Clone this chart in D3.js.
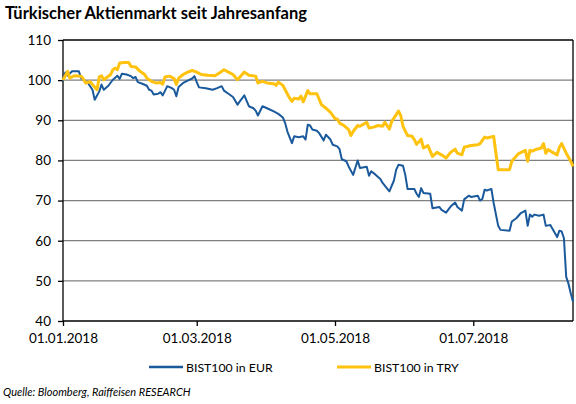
<!DOCTYPE html>
<html><head><meta charset="utf-8">
<script src="https://cdn.jsdelivr.net/npm/d3@7"></script>
<style>body{margin:0;background:#fff;} svg{display:block;}</style>
</head><body>
<svg id="c" width="576" height="404"></svg>
<script>
const startDate = "2018-01-01";
const endDay = 225;
const xTickLabels = ["01.01.2018","01.03.2018","01.05.2018","01.07.2018"];
const yTicks = [40,50,60,70,80,90,100,110];
const seriesNames = ["BIST100 in EUR","BIST100 in TRY"];

const eurDays = [0,1,2,4,7,8,10,11,13,14,16,17,18,20,22,24,25,26,28,30,31,32,33,35,37,38,39,40,42,43,44,46,48,49,50,51,53,55,57,58,59,60,63,66,68,70,71,73,75,77,78,80,82,84,85,86,88,90,93,95,97,98,99,101,102,104,106,107,108,109,110,112,113,115,116,118,119,121,122,123,125,126,128,130,131,134,135,136,138,140,141,144,146,147,148,150,151,152,155,156,157,158,159,162,163,166,167,169,171,173,174,176,177,179,180,183,184,185,186,187,189,190,192,193,197,198,200,202,204,205,206,207,208,210,212,213,215,216,218,219,220,221,222,223,224,225];
const eurValues = [99.7,101.9,101.1,102.2,102.2,100.5,99.7,99.3,97.6,95.1,97.2,98.9,97.6,98.6,100.1,101.1,100.3,101.6,101.4,101.0,100.5,100.8,99.5,99.1,98.6,97.6,97.4,96.4,96.6,97.0,96.2,98.5,98.0,97.6,96.0,98.3,99.3,99.9,100.4,101.0,99.5,98.2,98.0,97.6,98.0,98.5,97.4,96.6,95.8,93.9,94.7,96.2,93.5,93.0,92.4,91.2,93.5,93.0,92.2,91.6,90.7,89.3,87.2,84.3,86.0,85.8,86.0,85.2,88.9,88.7,87.7,87.4,86.8,85.0,86.4,85.2,83.9,83.5,82.8,80.3,79.8,78.5,76.4,80.0,78.1,78.4,76.2,77.3,76.4,75.4,74.4,72.3,75.0,77.7,78.9,78.7,76.4,72.9,72.9,71.7,70.9,73.1,71.9,71.7,68.1,68.4,67.7,67.0,68.5,69.5,68.4,67.5,70.3,71.2,70.9,71.2,70.0,70.4,72.7,72.5,72.9,69.4,63.7,62.7,62.5,64.8,65.6,66.9,67.5,63.7,66.5,66.0,66.5,66.2,66.5,63.7,63.9,62.9,60.9,62.5,62.3,60.6,51.0,49.3,46.9,44.8];

const tryDays = [0,2,3,5,8,9,10,12,13,15,16,17,18,21,22,23,24,25,27,29,30,32,34,36,37,39,41,43,44,45,47,49,50,51,53,55,57,59,61,64,67,69,71,73,75,77,80,82,85,86,88,90,93,94,95,97,98,100,101,102,104,105,106,108,109,112,114,116,118,120,121,122,124,126,127,128,130,131,134,135,137,139,141,142,144,145,147,148,149,150,152,154,155,156,158,159,161,163,165,167,169,171,173,174,176,177,180,183,184,186,187,190,191,192,197,198,201,204,205,206,207,209,211,212,213,214,216,218,219,220,222,224,225];
const tryValues = [100.0,102.2,100.5,101.1,101.0,100.3,99.3,99.6,98.9,97.6,100.8,101.1,100.1,101.4,102.6,103.0,102.6,104.3,104.4,104.4,103.4,103.3,102.2,101.4,100.5,99.7,99.3,99.4,99.0,100.8,101.0,100.4,98.9,100.5,101.4,102.0,102.4,102.0,101.4,101.2,101.1,101.8,102.6,102.0,101.4,100.1,102.0,101.2,101.0,99.3,99.7,99.3,99.1,98.7,99.5,98.7,97.6,95.5,94.7,95.5,95.3,96.0,94.6,97.4,96.6,96.6,93.9,93.0,92.0,90.4,90.3,89.3,88.7,87.7,86.2,87.2,88.7,88.5,89.5,88.1,88.3,88.7,88.5,89.5,87.8,89.7,91.4,92.3,91.2,88.5,86.2,86.0,85.2,84.0,85.3,83.1,83.7,81.0,82.0,81.4,80.6,82.0,82.8,81.8,81.4,83.3,83.7,83.9,84.2,85.8,85.6,86.0,81.8,77.7,77.7,79.8,81.7,82.5,79.8,82.5,82.3,82.8,83.1,84.2,81.8,82.7,82.0,81.4,83.3,84.2,81.8,79.8,78.5];

const blue = "#1a5a9c", yellow = "#fec20f";
const svg = d3.select("#c");
const m = {l:63, t:40, r:573, b:321};
const t0 = d3.timeParse("%Y-%m-%d")(startDate);
const toDate = d => d3.timeDay.offset(t0, d);
const x = d3.scaleTime().domain([t0, toDate(endDay)]).range([m.l, m.r]);
const y = d3.scaleLinear().domain([40,110]).range([m.b, m.t]);
const font = "'Century Gothic','URW Gothic','Lato',sans-serif";

svg.append("text").attr("x",5).attr("y",19).attr("font-family","'Lato',sans-serif").attr("font-weight","bold")
  .attr("font-size",16.5).attr("fill","#000").text("Türkischer Aktienmarkt seit Jahresanfang");

// gridlines
svg.append("g").selectAll("line").data(yTicks.filter(v=>v>40&&v<110)).join("line")
  .attr("x1",m.l).attr("x2",m.r).attr("y1",d=>y(d)).attr("y2",d=>y(d))
  .attr("stroke","#808080").attr("stroke-width",1.3);
// frame top/right
svg.append("line").attr("x1",m.l).attr("x2",m.r).attr("y1",y(110)).attr("y2",y(110)).attr("stroke","#000").attr("stroke-width",1.3);
svg.append("line").attr("x1",m.r).attr("x2",m.r).attr("y1",y(110)).attr("y2",m.b).attr("stroke","#000").attr("stroke-width",1.3);

const yAxis = svg.append("g").attr("transform",`translate(${m.l},0)`)
  .call(d3.axisLeft(y).tickValues(yTicks).tickSize(5).tickPadding(7).tickFormat(d3.format("d")));
const xTickDates = xTickLabels.map(s=>d3.timeParse("%d.%m.%Y")(s));
const xAxis = svg.append("g").attr("transform",`translate(0,${m.b})`)
  .call(d3.axisBottom(x).tickValues(xTickDates).tickSize(5).tickPadding(7).tickFormat(d3.timeFormat("%d.%m.%Y")));
[yAxis,xAxis].forEach(g=>{
  g.selectAll("path,line").attr("stroke","#000").attr("stroke-width",1.3);
  g.selectAll("text").attr("font-family",font).attr("font-size",13.5).attr("fill","#000");
});
xAxis.select(".domain").attr("d",`M${m.l},0H${m.r}`);
yAxis.select(".domain").attr("d",`M0,${m.b}V${y(110)}`);

const line = d3.line().x(d=>x(toDate(d[0]))).y(d=>y(d[1]));
svg.append("path").datum(eurDays.map((d,i)=>[d,eurValues[i]])).attr("d",line)
  .attr("fill","none").attr("stroke",blue).attr("stroke-width",2).attr("stroke-linejoin","round");
svg.append("path").datum(tryDays.map((d,i)=>[d,tryValues[i]])).attr("d",line)
  .attr("fill","none").attr("stroke",yellow).attr("stroke-width",3).attr("stroke-linejoin","round");

// legend
const leg = [{n:seriesNames[0],c:blue,w:2.5,x:149},{n:seriesNames[1],c:yellow,w:3,x:337}];
const lg = svg.append("g").selectAll("g").data(leg).join("g").attr("transform",d=>`translate(${d.x},367)`);
lg.append("line").attr("x1",0).attr("x2",34).attr("stroke",d=>d.c).attr("stroke-width",d=>d.w);
lg.append("text").attr("x",37).attr("y",5).attr("font-family",font).attr("font-size",12.3).attr("fill","#000").text(d=>d.n);

svg.append("text").attr("x",3).attr("y",396).attr("font-family",font).attr("font-style","italic")
  .attr("font-size",11).attr("fill","#000").text("Quelle: Bloomberg, Raiffeisen RESEARCH");
</script>
</body></html>
